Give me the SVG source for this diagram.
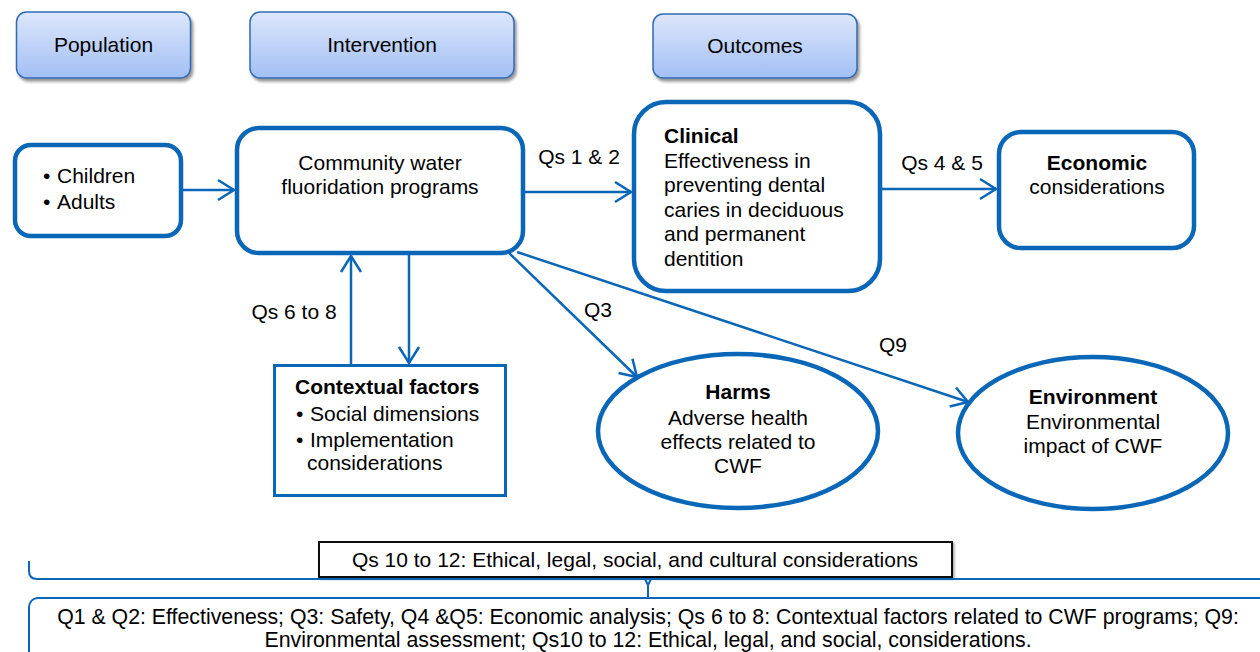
<svg xmlns="http://www.w3.org/2000/svg" width="1260" height="652" viewBox="0 0 1260 652">
  <defs>
    <linearGradient id="hdrFill" x1="0" y1="0" x2="0" y2="1">
      <stop offset="0" stop-color="#dde7fb"/>
      <stop offset="1" stop-color="#a2bff5"/>
    </linearGradient>
    <filter id="hdrShadow" x="-10%" y="-10%" width="130%" height="150%">
      <feDropShadow dx="2" dy="3" stdDeviation="1.5" flood-color="#7a7a7a" flood-opacity="0.8"/>
    </filter>
    <filter id="boxShadow" x="-5%" y="-20%" width="110%" height="150%">
      <feDropShadow dx="1.5" dy="1.5" stdDeviation="0.8" flood-color="#8a8a8a" flood-opacity="0.8"/>
    </filter>
    <marker id="arrow" markerUnits="userSpaceOnUse" markerWidth="24" markerHeight="26" viewBox="-20 -13 24 26" refX="0" refY="0" orient="auto">
      <path d="M-16,-10 L0,0 L-16,10" fill="none" stroke="#0a66b7" stroke-width="2.5"/>
    </marker>
  </defs>
  <style>
    text { font-family: "Liberation Sans", Arial, sans-serif; font-size: 21px; fill: #000; }
    .hdr rect { fill: url(#hdrFill); stroke: #2f6cb5; stroke-width: 1.5; filter: url(#hdrShadow); }
    .box { fill: #fff; stroke: #0a66b7; stroke-width: 4.5; }
    .thin { fill: #fff; stroke: #0a66b7; stroke-width: 3; }
    #connectors line { stroke: #0a66b7; stroke-width: 2.5; marker-end: url(#arrow); }
    .b { font-weight: bold; }
    .c { text-anchor: middle; }
    .sum { font-size: 21.3px; }
  </style>

  <!-- PICO headers -->
  <g id="hdr-population" class="hdr">
    <rect x="16.5" y="12" width="174" height="66" rx="10"/>
    <text class="c" x="103.5" y="52">Population</text>
  </g>
  <g id="hdr-intervention" class="hdr">
    <rect x="250" y="12" width="264" height="66" rx="10"/>
    <text class="c" x="382" y="52">Intervention</text>
  </g>
  <g id="hdr-outcomes" class="hdr">
    <rect x="653" y="14" width="204" height="64" rx="10"/>
    <text class="c" x="755" y="53">Outcomes</text>
  </g>

  <!-- Population -->
  <g id="population">
    <rect class="box" x="15" y="145" width="166" height="91" rx="16"/>
    <text x="43" y="183">•</text><text x="57" y="183">Children</text>
    <text x="43" y="209">•</text><text x="57" y="209">Adults</text>
  </g>

  <!-- Intervention -->
  <g id="intervention">
    <rect class="box" x="237" y="128" width="286" height="125" rx="22"/>
    <text class="c" x="380" y="170">Community water</text>
    <text class="c" x="380" y="194">fluoridation programs</text>
  </g>

  <!-- Clinical outcomes -->
  <g id="clinical">
    <rect class="box" x="634" y="102" width="246" height="189" rx="32"/>
    <text class="b" x="664" y="143">Clinical</text>
    <text x="664" y="167.5">Effectiveness in</text>
    <text x="664" y="192">preventing dental</text>
    <text x="664" y="216.5">caries in deciduous</text>
    <text x="664" y="241">and permanent</text>
    <text x="664" y="265.5">dentition</text>
  </g>

  <!-- Economic outcomes -->
  <g id="economic">
    <rect class="box" x="999" y="132" width="195" height="116" rx="22"/>
    <text class="c b" x="1097" y="170">Economic</text>
    <text class="c" x="1097" y="194">considerations</text>
  </g>

  <!-- Contextual factors -->
  <g id="contextual">
    <rect class="thin" x="274.5" y="365.5" width="231" height="130"/>
    <text class="b" x="295" y="394">Contextual factors</text>
    <text x="296" y="420.5">•</text><text x="310" y="420.5">Social dimensions</text>
    <text x="296" y="446.5">•</text><text x="310" y="446.5">Implementation</text>
    <text x="307" y="470">considerations</text>
  </g>

  <!-- Harms -->
  <g id="harms">
    <ellipse class="box" cx="738" cy="431" rx="140" ry="77"/>
    <text class="c b" x="738" y="399">Harms</text>
    <text class="c" x="738" y="425">Adverse health</text>
    <text class="c" x="738" y="449">effects related to</text>
    <text class="c" x="738" y="473">CWF</text>
  </g>

  <!-- Environment -->
  <g id="environment">
    <ellipse class="box" cx="1093" cy="433" rx="135" ry="76"/>
    <text class="c b" x="1093" y="404">Environment</text>
    <text class="c" x="1093" y="429">Environmental</text>
    <text class="c" x="1093" y="453">impact of CWF</text>
  </g>

  <!-- Connectors -->
  <g id="connectors">
    <line x1="183" y1="190" x2="234" y2="190"/>
    <line x1="525" y1="192" x2="631" y2="192"/>
    <line x1="882" y1="189" x2="996" y2="189"/>
    <line x1="351" y1="364" x2="351" y2="256"/>
    <line x1="409" y1="255" x2="409" y2="363"/>
    <line x1="508" y1="252" x2="637" y2="377"/>
    <line x1="517" y1="252" x2="968" y2="402"/>
  </g>

  <!-- Connector labels -->
  <g id="connector-labels">
    <text class="c" x="579" y="164">Qs 1 &amp; 2</text>
    <text class="c" x="942" y="170">Qs 4 &amp; 5</text>
    <text class="c" x="294" y="319">Qs 6 to 8</text>
    <text class="c" x="598" y="317">Q3</text>
    <text class="c" x="893" y="352">Q9</text>
  </g>

  <!-- Cross-cutting considerations -->
  <g id="elsi">
    <rect x="319" y="542" width="633" height="35" fill="#fff" stroke="#111" stroke-width="2" filter="url(#boxShadow)"/>
    <text class="c" x="635" y="567">Qs 10 to 12: Ethical, legal, social, and cultural considerations</text>
  </g>

  <!-- Brace spanning the whole framework -->
  <g id="brace" fill="none" stroke="#0a66b7" stroke-width="2">
    <path d="M29,561 L29,571 Q29,579 37,579 L1262,579"/>
    <path d="M645,579 L648,585 L651,579 M648,585 L648,598"/>
  </g>

  <!-- Summary of key questions -->
  <g id="summary">
    <rect x="29" y="598" width="1250" height="70" rx="9" fill="#fff" stroke="#0a66b7" stroke-width="2"/>
    <text class="c sum" x="648" y="624">Q1 &amp; Q2: Effectiveness; Q3: Safety, Q4 &amp;Q5: Economic analysis; Qs 6 to 8: Contextual factors related to CWF programs; Q9:</text>
    <text class="c sum" x="648" y="647">Environmental assessment; Qs10 to 12: Ethical, legal, and social, considerations.</text>
  </g>
</svg>
